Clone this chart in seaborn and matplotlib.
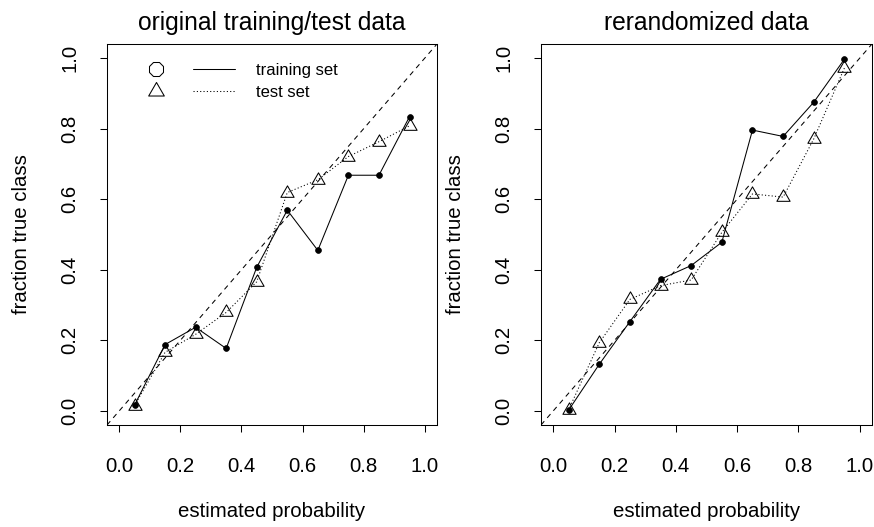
import numpy as np
import pandas as pd
import matplotlib
matplotlib.use("Agg")
import matplotlib.pyplot as plt
from matplotlib.path import Path
from matplotlib.lines import Line2D
from matplotlib.legend_handler import HandlerTuple
import seaborn as sns

# ---- data ----
bins = [0.05, 0.15, 0.25, 0.35, 0.45, 0.55, 0.65, 0.75, 0.85, 0.95]
orig_train = [0.016, 0.188, 0.237, 0.177, 0.407, 0.569, 0.455, 0.668, 0.668, 0.834]
orig_test = [0.015, 0.166, 0.217, 0.279, 0.366, 0.619, 0.655, 0.721, 0.763, 0.808]
rand_train = [0.002, 0.132, 0.253, 0.373, 0.412, 0.478, 0.796, 0.778, 0.875, 0.997]
rand_test = [0.003, 0.193, 0.316, 0.355, 0.371, 0.506, 0.615, 0.606, 0.771, 0.972]
titles = ["original training/test data", "rerandomized data"]
ticks = [0.0, 0.2, 0.4, 0.6, 0.8, 1.0]
tick_labels = ["0.0", "0.2", "0.4", "0.6", "0.8", "1.0"]
legend_labels = ["training set", "test set"]

sns.set_theme(style="ticks")
plt.rcParams["font.family"] = ["Liberation Sans", "DejaVu Sans"]
plt.rcParams["lines.scale_dashes"] = False
plt.rcParams["text.color"] = "black"
plt.rcParams["axes.labelcolor"] = "black"
plt.rcParams["axes.titlecolor"] = "black"

# R-style triangle (centroid at the point)
tri = Path([(0, 1.555), (1.347, -0.778), (-1.347, -0.778), (0, 1.555)],
           [Path.MOVETO, Path.LINETO, Path.LINETO, Path.CLOSEPOLY])

fig = plt.figure(figsize=(8.74, 5.27), dpi=100)
W, H = 874, 527
boxes = [(107, 44, 330, 381), (541, 44, 331, 381)]
panels = [(orig_train, orig_test), (rand_train, rand_test)]

lw = 0.75
for i, ((x0, y0, w, h), (tr, te)) in enumerate(zip(boxes, panels)):
    ax = fig.add_axes([x0 / W, 1 - (y0 + h) / H, w / W, h / H])
    df = pd.DataFrame({"p": bins, "train": tr, "test": te})
    ax.axline((0, 0), slope=1, color="black", lw=lw, linestyle=(0, (3.6, 3.2)))
    sns.lineplot(data=df, x="p", y="test", ax=ax, color="black", lw=lw,
                 linestyle=(0, (0.8, 1.6)), marker=tri, markersize=11,
                 markerfacecolor="none", markeredgecolor="black",
                 markeredgewidth=lw)
    sns.lineplot(data=df, x="p", y="train", ax=ax, color="black", lw=lw,
                 marker="o", markersize=4.2, markerfacecolor="black",
                 markeredgecolor="black", markeredgewidth=0.5)
    ax.set_xlim(-0.04, 1.04)
    ax.set_ylim(-0.04, 1.04)
    ax.set_xticks(ticks)
    ax.set_xticklabels(tick_labels)
    ax.set_yticks(ticks)
    ax.set_yticklabels(tick_labels, rotation=90, va="center")
    ax.tick_params(axis="both", direction="out", length=5, width=lw,
                   labelsize=14.7, color="black", labelcolor="black")
    ax.tick_params(axis="x", pad=18)
    ax.tick_params(axis="y", pad=15)
    for s in ax.spines.values():
        s.set_linewidth(lw)
        s.set_color("black")
    ax.set_xlabel("estimated probability", fontsize=14.7, labelpad=19)
    ax.set_ylabel("fraction true class", fontsize=14.7, labelpad=21)
    ax.set_title(titles[i], fontsize=17.7, pad=10)
    ax.grid(False)

    if i == 0:
        h_train = (Line2D([], [], linestyle="none", marker="8", markersize=10.5,
                          markerfacecolor="none", markeredgecolor="black",
                          markeredgewidth=lw),
                   Line2D([], [], color="black", lw=lw))
        h_test = (Line2D([], [], linestyle="none", marker=tri, markersize=13,
                         markerfacecolor="none", markeredgecolor="black",
                         markeredgewidth=lw),
                  Line2D([], [], color="black", lw=lw, linestyle=(0, (0.8, 1.6))))
        ax.legend([h_train, h_test], legend_labels,
                  handler_map={tuple: HandlerTuple(ndivide=None, pad=1.0)},
                  loc="upper left", bbox_to_anchor=(0.085, 0.951),
                  frameon=False, borderpad=0, borderaxespad=0,
                  fontsize=12, handlelength=6.0, handletextpad=1.25,
                  labelspacing=0.43)
    else:
        if ax.get_legend() is not None:
            ax.get_legend().remove()

fig.savefig("out.png", dpi=100)
